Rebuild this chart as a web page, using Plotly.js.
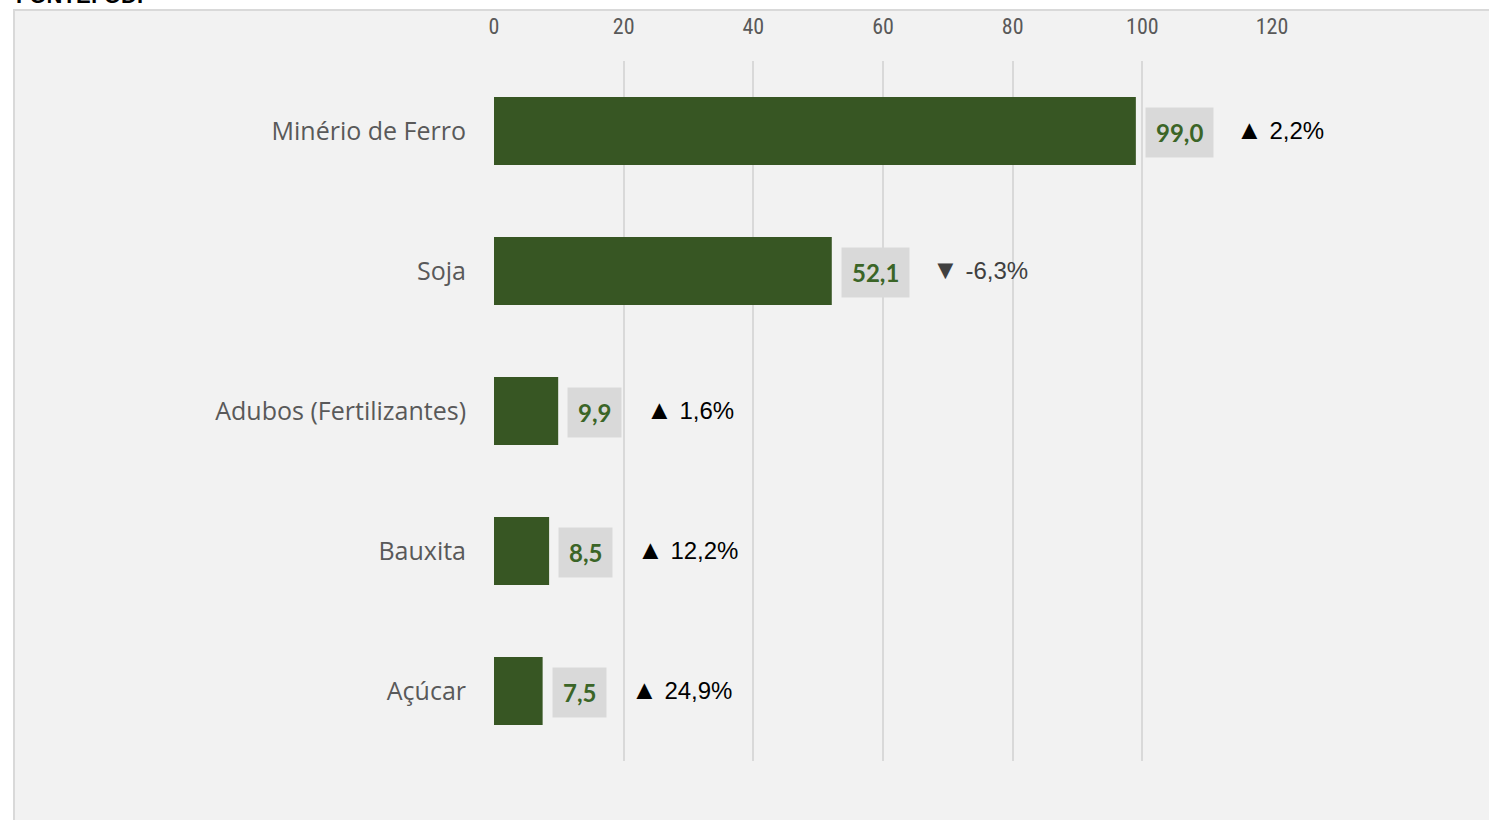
<!DOCTYPE html>
<html>
<head>
<meta charset="utf-8">
<script src="https://cdn.plot.ly/plotly-3.0.1.min.js"></script>
<style>html,body{margin:0;padding:0;background:#fff;}#chart{width:1489px;height:820px;}</style>
</head>
<body>
<div id="chart"></div>
<script>
const categories = ["Minério de Ferro", "Soja", "Adubos (Fertilizantes)", "Bauxita", "Açúcar"];
const values = [99.0, 52.1, 9.9, 8.5, 7.5];
const changes = [2.2, -6.3, 1.6, 12.2, 24.9];
const tickVals = [0, 20, 40, 60, 80, 100, 120];
const sourceText = "FONTE: ODP";

const fmt = v => v.toFixed(1).replace('.', ',');

const W = 1489, H = 820;
const mL = 494, mR = 217, mT = 61, mB = 59;
const pw = W - mL - mR, ph = H - mT - mB;
const px = x => (x - mL) / pw;
const py = y => (H - mB - y) / ph;

const green = '#375623';
const labelGreen = '#3b6527';

const trace = {
  type: 'bar',
  orientation: 'h',
  x: values,
  y: categories,
  marker: {color: green},
  hoverinfo: 'none'
};

const annotations = [];
values.forEach((v, i) => {
  const s = fmt(v);
  annotations.push({
    x: v, y: categories[i], xref: 'x', yref: 'y',
    text: '<b>' + s + '</b>', showarrow: false,
    xanchor: 'left', yanchor: 'middle', xshift: 9, yshift: -1,
    bgcolor: '#d9d9d9', borderpad: 10,
    font: {family: 'Lato, "Open Sans", sans-serif', size: 24, color: labelGreen}
  });
  const c = changes[i];
  const boxW = s.length >= 4 ? 67 : 55;
  annotations.push({
    x: v, y: categories[i], xref: 'x', yref: 'y',
    text: '<span style="font-size:27px">' + (c >= 0 ? '▲' : '▼') + '</span> ' + fmt(c) + '%', showarrow: false,
    xanchor: 'left', yanchor: 'middle', xshift: 9 + boxW + 22, yshift: 1,
    font: {family: '"Liberation Sans", Arial, sans-serif', size: 24, color: c >= 0 ? '#000000' : '#404040'}
  });
});
annotations.push({
  xref: 'paper', yref: 'paper', x: px(14), y: py(10), xanchor: 'left', yanchor: 'bottom',
  text: '<b>' + sourceText + '</b>', showarrow: false,
  font: {family: '"Liberation Sans", Arial, sans-serif', size: 22, color: '#000'}
});

const layout = {
  width: W, height: H,
  margin: {l: mL, r: mR, t: mT, b: mB, pad: 0},
  paper_bgcolor: '#ffffff',
  plot_bgcolor: 'rgba(0,0,0,0)',
  showlegend: false,
  bargap: 0.514,
  xaxis: {
    range: [0, 120], side: 'top', tickvals: tickVals,
    showgrid: true, gridcolor: '#d9d9d9', gridwidth: 2,
    zeroline: false, showline: false, ticks: '',
    ticklabelstandoff: 22,
    tickfont: {family: '"Liberation Sans Narrow", "Roboto Condensed", "DejaVu Sans Condensed", sans-serif', size: 22, color: '#595959'},
    fixedrange: true
  },
  yaxis: {
    type: 'category', autorange: 'reversed',
    showgrid: false, zeroline: false, showline: false, ticks: '',
    ticklabelstandoff: 27,
    tickfont: {family: '"Open Sans", sans-serif', size: 25, color: '#595959'},
    fixedrange: true
  },
  shapes: [{
    type: 'rect', layer: 'below', xref: 'paper', yref: 'paper',
    x0: px(14), x1: px(W + 5), y0: py(H + 5), y1: py(10),
    fillcolor: '#f2f2f2', line: {color: '#d9d9d9', width: 2}
  }],
  annotations: annotations
};

Plotly.newPlot('chart', [trace], layout, {displayModeBar: false, staticPlot: true});
</script>
</body>
</html>
